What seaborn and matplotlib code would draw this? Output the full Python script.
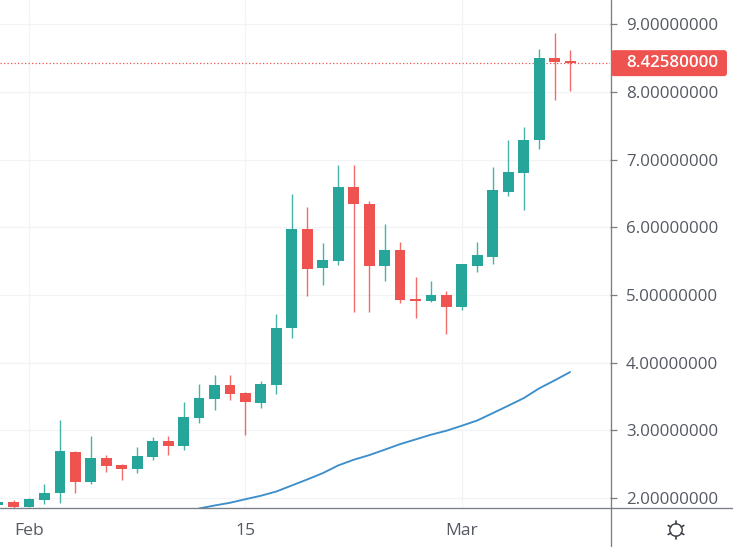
import numpy as np
import pandas as pd
import seaborn as sns
import matplotlib.pyplot as plt
from matplotlib.lines import Line2D
from matplotlib.patches import Circle, FancyBboxPatch
from matplotlib.transforms import IdentityTransform

# Dias contados a partir de 1 de fevereiro
dias = list(range(-2, 36))
abertura = [1.889, 1.948, 1.874, 1.963, 2.067, 2.673, 2.229, 2.584, 2.481, 2.422,
            2.599, 2.836, 2.762, 3.176, 3.457, 3.664, 3.546, 3.398, 3.664, 4.507,
            5.972, 5.395, 5.499, 6.593, 6.342, 5.425, 5.661, 4.936, 4.907, 4.996,
            4.818, 5.425, 5.558, 6.519, 6.800, 7.289, 8.502, 8.457]
fechamento = [1.948, 1.874, 1.978, 2.081, 2.688, 2.229, 2.584, 2.466, 2.422, 2.614,
              2.836, 2.762, 3.191, 3.472, 3.664, 3.531, 3.413, 3.679, 4.507, 5.972,
              5.380, 5.513, 6.593, 6.342, 5.425, 5.661, 4.922, 4.907, 4.996, 4.818,
              5.454, 5.587, 6.549, 6.815, 7.289, 8.502, 8.443, 8.4258]
maximo = [1.960, 1.973, 2.007, 2.210, 3.146, 2.688, 2.910, 2.629, 2.496, 2.747,
          2.895, 2.910, 3.413, 3.679, 3.812, 3.812, 3.561, 3.723, 4.714, 6.490,
          6.297, 5.765, 6.919, 6.919, 6.386, 6.046, 5.780, 5.262, 5.203, 5.055,
          5.454, 5.780, 6.889, 7.289, 7.481, 8.635, 8.872, 8.620]
minimo = [1.870, 1.850, 1.867, 1.904, 1.919, 2.081, 2.214, 2.377, 2.259, 2.362,
          2.555, 2.629, 2.703, 3.102, 3.294, 3.442, 2.925, 3.324, 3.531, 4.360,
          4.981, 5.144, 5.439, 4.744, 4.744, 5.203, 4.877, 4.655, 4.892, 4.419,
          4.774, 5.336, 5.454, 6.460, 6.253, 7.155, 7.880, 8.013]

# Media movel
dias_media = list(range(11, 36))
media = [1.845, 1.889, 1.929, 1.982, 2.033, 2.096, 2.185, 2.274, 2.367, 2.481,
         2.565, 2.633, 2.713, 2.796, 2.865, 2.935, 2.994, 3.068, 3.146, 3.254,
         3.364, 3.476, 3.620, 3.738, 3.861]

ticks_y = [2, 3, 4, 5, 6, 7, 8, 9]
ticks_x = [0, 14, 28]
rotulos_x = ['Feb', '15', 'Mar']
ultimo = 8.4258

VERDE = '#26a69a'
VERMELHO = '#ef5350'
AZUL = '#3d8fcb'
GRADE = '#f1f3f7'
EIXO = '#7b7e85'
TEXTO = '#555962'

sns.set_style('white')
plt.rcParams['font.family'] = ['Open Sans', 'DejaVu Sans']

L, A = 733, 547
fig = plt.figure(figsize=(L / 100, A / 100), dpi=100)
ax = fig.add_axes([0, 39 / A, 610 / L, 508 / A])

df = pd.DataFrame({'dia': dias, 'o': abertura, 'c': fechamento, 'h': maximo, 'l': minimo})
df['cor'] = np.where(df['c'] >= df['o'], VERDE, VERMELHO)
df['base'] = df[['o', 'c']].min(axis=1)
df['altura'] = (df['c'] - df['o']).abs()

# Pavios e corpos dos candles
ax.vlines(df['dia'], df['l'], df['h'], colors=df['cor'], linewidth=1.0, alpha=0.85, zorder=3)
ax.bar(df['dia'], df['altura'], bottom=df['base'], width=0.7, color=df['cor'], linewidth=0, zorder=4)

sns.lineplot(x=dias_media, y=media, color=AZUL, linewidth=1.35, ax=ax, zorder=5)
ax.axhline(ultimo, color=VERMELHO, linewidth=0.9, linestyle=(0, (1, 1.8)), zorder=2)

ax.set_xlim(-1.876, 37.58)
ax.set_ylim(1.852, 9.359)
ax.set_xticks(ticks_x, rotulos_x)
ax.set_yticks(ticks_y, [f'{v:.8f}' for v in ticks_y])
ax.yaxis.tick_right()
ax.grid(True, color=GRADE, linewidth=0.9)
ax.set_axisbelow(True)
ax.tick_params(axis='x', length=5, width=0.9, color=EIXO, labelcolor=TEXTO, labelsize=12.6, pad=6)
ax.tick_params(axis='y', length=5, width=0.9, color=EIXO, labelcolor=TEXTO, labelsize=12.2, pad=6.5,
               right=True, left=False)
for lado in ['top', 'left', 'bottom', 'right']:
    ax.spines[lado].set_visible(False)

# Linhas dos eixos vao ate a borda da imagem
fig.add_artist(Line2D([0, 1], [39 / A, 39 / A], color=EIXO, linewidth=0.95))
fig.add_artist(Line2D([610.5 / L, 610.5 / L], [0, 1], color=EIXO, linewidth=0.95))

# Etiqueta do ultimo preco
fig.canvas.draw()
y_px = ax.transData.transform((0, ultimo))[1]
caixa = FancyBboxPatch((611, y_px - 13), 116, 26, boxstyle='round,pad=0,rounding_size=3',
                       facecolor=VERMELHO, edgecolor='none', transform=IdentityTransform(), zorder=6)
fig.add_artist(caixa)
fig.text(626 / L, y_px / A, f'{ultimo:.8f}', color='white', fontsize=12.2, fontweight='semibold',
         ha='left', va='center', zorder=7)

# Icone de configuracao
cx, cy = 676, A - 530
fig.add_artist(Circle((cx, cy), 6.2, facecolor='none', edgecolor='#3a3d45', linewidth=1.0,
                      transform=IdentityTransform()))
for ang in np.arange(0, 360, 60) + 30:
    dx, dy = np.cos(np.radians(ang)), np.sin(np.radians(ang))
    fig.add_artist(Line2D([cx + 6 * dx, cx + 9 * dx], [cy + 6 * dy, cy + 9 * dy], color='#3a3d45',
                          linewidth=1.2, transform=IdentityTransform()))

fig.savefig('out.png', dpi=100)
